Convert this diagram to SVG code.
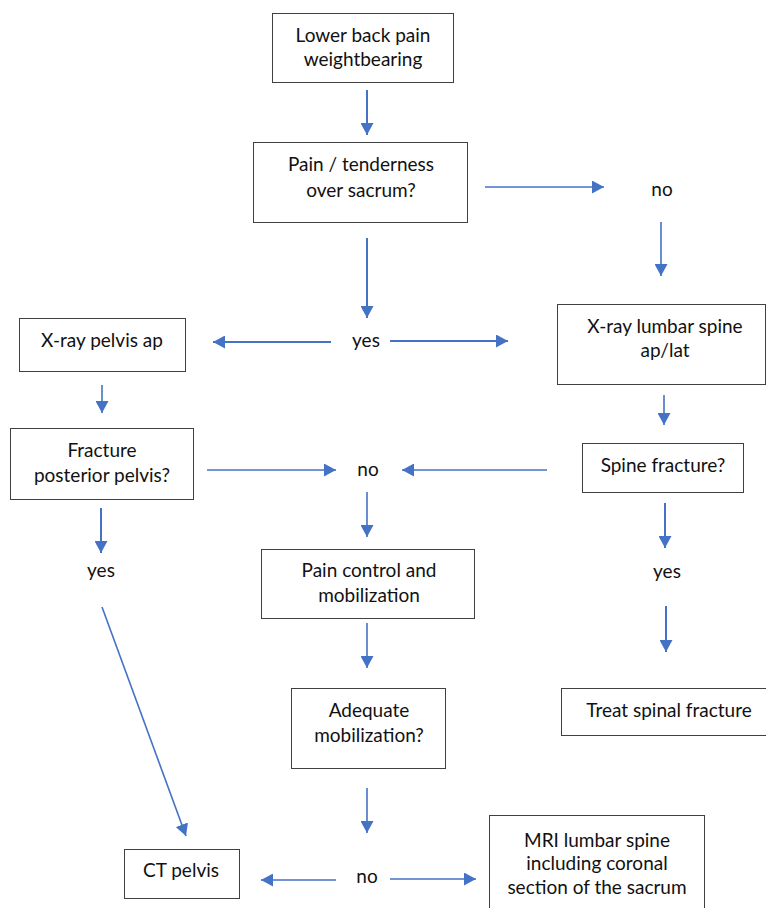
<svg xmlns="http://www.w3.org/2000/svg" width="766" height="908" viewBox="0 0 766 908">
<style>
.box{fill:#fff;stroke:#404040;stroke-width:1}
.t{font-family:Lato,"Liberation Sans",sans-serif;font-size:19px;fill:#111;text-anchor:middle}
.c{stroke:#4472C4;stroke-width:1.6;fill:none}
.k{stroke-width:2}
</style>
<defs>
<marker id="ah" markerUnits="userSpaceOnUse" markerWidth="13" markerHeight="13" refX="12" refY="6.5" orient="auto" viewBox="0 0 13 13">
<path d="M0,0 L12,6.5 L0,13 z" fill="#4472C4"/>
</marker>
</defs>
<rect width="766" height="908" fill="#fff"/>
<g id="n1"><rect class="box" x="272.5" y="13.5" width="181" height="69"/><text class="t" x="363" y="42">Lower back pain</text><text class="t" x="363" y="66">weightbearing</text></g>
<g id="n2"><rect class="box" x="253.5" y="142.5" width="214" height="80"/><text class="t" x="361" y="171">Pain / tenderness</text><text class="t" x="361" y="197">over sacrum?</text></g>
<g id="l_no1"><text class="t" x="662" y="196">no</text></g>
<g id="l_yes1"><text class="t" x="366" y="347">yes</text></g>
<g id="n3"><rect class="box" x="19.5" y="318.5" width="166" height="53"/><text class="t" x="102" y="347">X-ray pelvis ap</text></g>
<g id="n4"><rect class="box" x="10.5" y="428.5" width="183" height="71"/><text class="t" x="102" y="457">Fracture</text><text class="t" x="102" y="482">posterior pelvis?</text></g>
<g id="n5"><rect class="box" x="557.5" y="304.5" width="208" height="80"/><text class="t" x="665" y="333">X-ray lumbar spine</text><text class="t" x="665" y="357">ap/lat</text></g>
<g id="n6"><rect class="box" x="582.5" y="443.5" width="161" height="49"/><text class="t" x="663" y="472">Spine fracture?</text></g>
<g id="l_no2"><text class="t" x="368" y="476">no</text></g>
<g id="l_yes2"><text class="t" x="101" y="577">yes</text></g>
<g id="l_yes3"><text class="t" x="667" y="578">yes</text></g>
<g id="n7"><rect class="box" x="261.5" y="549.5" width="213" height="69"/><text class="t" x="369" y="577">Pain control and</text><text class="t" x="369" y="602">mobilization</text></g>
<g id="n8"><rect class="box" x="291.5" y="688.5" width="154" height="80"/><text class="t" x="369" y="717">Adequate</text><text class="t" x="369" y="742">mobilization?</text></g>
<g id="n9"><rect class="box" x="561.5" y="688.5" width="210" height="47"/><text class="t" x="669" y="717">Treat spinal fracture</text></g>
<g id="n10"><rect class="box" x="124.5" y="849.5" width="115" height="49"/><text class="t" x="181" y="877">CT pelvis</text></g>
<g id="l_no3"><text class="t" x="367" y="883">no</text></g>
<g id="n11"><rect class="box" x="489.5" y="815.5" width="215" height="100"/><text class="t" x="597" y="847">MRI lumbar spine</text><text class="t" x="597" y="870">including coronal</text><text class="t" x="597" y="894">section of the sacrum</text></g>
<g id="connectors">
<line class="c k" x1="367" y1="90" x2="367" y2="135" marker-end="url(#ah)"/>
<line class="c" x1="485" y1="187" x2="604" y2="187" marker-end="url(#ah)"/>
<line class="c" x1="661" y1="222" x2="661" y2="276" marker-end="url(#ah)"/>
<line class="c k" x1="367" y1="238" x2="367" y2="318" marker-end="url(#ah)"/>
<line class="c k" x1="331" y1="342" x2="213" y2="342" marker-end="url(#ah)"/>
<line class="c k" x1="390" y1="341" x2="508" y2="341" marker-end="url(#ah)"/>
<line class="c" x1="102" y1="385" x2="102" y2="413" marker-end="url(#ah)"/>
<line class="c" x1="664" y1="395" x2="664" y2="425" marker-end="url(#ah)"/>
<line class="c" x1="207" y1="470" x2="336" y2="470" marker-end="url(#ah)"/>
<line class="c" x1="547" y1="470" x2="402" y2="470" marker-end="url(#ah)"/>
<line class="c k" x1="101" y1="508" x2="101" y2="553" marker-end="url(#ah)"/>
<line class="c" x1="367" y1="492" x2="367" y2="537" marker-end="url(#ah)"/>
<line class="c k" x1="665" y1="503" x2="665" y2="548" marker-end="url(#ah)"/>
<line class="c k" x1="666" y1="606" x2="666" y2="652" marker-end="url(#ah)"/>
<line class="c" x1="102" y1="607" x2="186" y2="836" marker-end="url(#ah)"/>
<line class="c" x1="367" y1="623" x2="367" y2="668" marker-end="url(#ah)"/>
<line class="c" x1="367" y1="788" x2="367" y2="833" marker-end="url(#ah)"/>
<line class="c" x1="336" y1="880" x2="261" y2="880" marker-end="url(#ah)"/>
<line class="c" x1="390" y1="879" x2="476" y2="879" marker-end="url(#ah)"/>
</g>
</svg>
